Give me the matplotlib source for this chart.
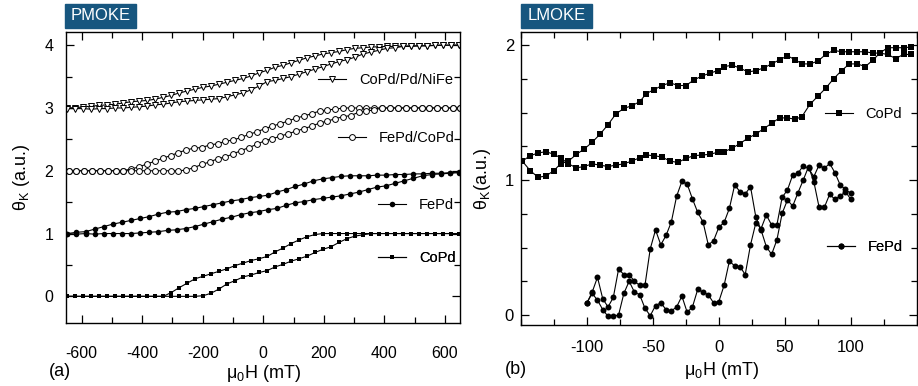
import matplotlib
matplotlib.use("Agg")
import matplotlib.pyplot as plt
from matplotlib.patches import Rectangle
from matplotlib.ticker import MultipleLocator, FixedLocator

plt.rcParams['font.family'] = ['Liberation Sans', 'DejaVu Sans']
plt.rcParams['mathtext.fontset'] = 'custom'
plt.rcParams['mathtext.rm'] = 'Liberation Sans'
plt.rcParams['axes.unicode_minus'] = False

# ---- (a) PMOKE ----
# field grid of CoPd and CoPd/Pd/NiFe loops (mT)
field_sq = [-647, -621, -594, -568, -541, -515, -489, -462, -436, -409,
            -383, -357, -330, -304, -277, -251, -225, -198, -172, -145,
            -119, -93, -66, -40, -13, 13, 40, 66, 92, 119,
            145, 172, 198, 224, 251, 277, 304, 330, 356, 383,
            409, 436, 462, 488, 515, 541, 568, 594, 620, 647]

copd_up = [0.0] * 13 + [0.06, 0.14, 0.21, 0.28, 0.32, 0.36, 0.40, 0.44, 0.49, 0.53,
                        0.57, 0.60, 0.635, 0.71, 0.77, 0.84, 0.90, 0.95, 0.985] + [1.0] * 18
copd_dn = [0.0] * 17 + [0.01, 0.05, 0.12, 0.20, 0.25, 0.31, 0.34, 0.38, 0.41, 0.47,
                        0.51, 0.56, 0.60, 0.64, 0.70, 0.75, 0.79, 0.86, 0.92, 0.96,
                        0.98] + [1.0] * 12

nife_up = [3.00, 3.005, 3.016, 3.03, 3.04, 3.05, 3.06, 3.08, 3.10, 3.11,
           3.12, 3.14, 3.17, 3.20, 3.24, 3.27, 3.30, 3.33, 3.35, 3.38,
           3.41, 3.44, 3.47, 3.51, 3.56, 3.60, 3.65, 3.68, 3.72, 3.76,
           3.80, 3.83, 3.86, 3.88, 3.90, 3.93, 3.95, 3.96, 3.97, 3.975,
           3.98, 3.98, 3.985, 3.99, 3.99, 3.99, 3.995, 4.0, 4.0, 4.0]
nife_dn = [2.99, 2.99, 2.99, 2.98, 2.99, 2.99, 3.0, 3.0, 3.01, 3.02,
           3.03, 3.05, 3.06, 3.08, 3.10, 3.11, 3.12, 3.13, 3.14, 3.15,
           3.18, 3.21, 3.24, 3.29, 3.35, 3.42, 3.44, 3.47, 3.50, 3.54,
           3.58, 3.62, 3.66, 3.70, 3.74, 3.77, 3.81, 3.86, 3.89, 3.92,
           3.95, 3.96, 3.98, 3.98, 3.99, 3.99, 4.0, 4.0, 4.0, 4.0]

# field grid of FePd/CoPd loop
field_oc = [-643, -617, -591, -565, -539, -514, -488, -462, -436, -410,
            -384, -358, -332, -306, -280, -255, -229, -203, -177, -151,
            -125, -99, -73, -47, -21, 5, 30, 56, 82, 108,
            134, 160, 186, 212, 238, 264, 289, 315, 341, 367,
            393, 419, 445, 471, 497, 523, 548, 574, 600, 626, 650]
fecopd_up = [2.0] * 8 + [2.03, 2.06, 2.11, 2.15, 2.20, 2.24, 2.29, 2.33, 2.36, 2.37,
                         2.41, 2.43, 2.47, 2.49, 2.53, 2.58, 2.62, 2.67, 2.71, 2.75,
                         2.79, 2.84, 2.87, 2.91, 2.95, 2.97, 2.98] + [3.0] * 16
fecopd_dn = [2.0] * 15 + [2.01, 2.05, 2.10, 2.14, 2.19, 2.22, 2.27, 2.32, 2.37, 2.42,
                          2.48, 2.51, 2.55, 2.59, 2.63, 2.67, 2.71, 2.76, 2.79, 2.83,
                          2.86, 2.88, 2.93, 2.95, 2.97] + [3.0] * 11

# field grid of FePd loop
field_fc = [-647, -617, -587, -557, -527, -497, -466, -436, -406, -376,
            -346, -316, -286, -256, -226, -196, -165, -135, -105, -75,
            -45, -15, 15, 45, 76, 106, 136, 166, 196, 226,
            256, 286, 316, 346, 376, 406, 436, 466, 496, 527,
            557, 587, 617, 647]
fepd_up = [1.00, 1.02, 1.03, 1.07, 1.11, 1.15, 1.18, 1.21, 1.24, 1.27,
           1.31, 1.34, 1.35, 1.38, 1.40, 1.43, 1.46, 1.49, 1.52, 1.54,
           1.57, 1.59, 1.61, 1.66, 1.70, 1.75, 1.79, 1.84, 1.87, 1.89,
           1.91, 1.92, 1.92, 1.92, 1.93, 1.93, 1.94, 1.94, 1.95, 1.95,
           1.96, 1.96, 1.97, 1.98]
fepd_dn = [1.0, 0.99, 1.0, 0.99, 1.0, 1.0, 1.0, 1.0, 1.01, 1.02,
           1.03, 1.05, 1.06, 1.08, 1.11, 1.15, 1.19, 1.23, 1.26, 1.30,
           1.33, 1.35, 1.38, 1.40, 1.45, 1.49, 1.51, 1.54, 1.56, 1.58,
           1.60, 1.63, 1.66, 1.70, 1.74, 1.76, 1.80, 1.84, 1.88, 1.92,
           1.94, 1.95, 1.96, 1.97]

# ---- (b) LMOKE ----
field_lsq = [-149, -143, -137, -131, -125, -120, -114, -108, -102, -96,
             -90, -84, -78, -72, -66, -60, -55, -49, -43, -37,
             -31, -25, -19, -13, -7, -1, 4, 10, 16, 22,
             28, 34, 40, 46, 52, 58, 63, 69, 75, 81,
             87, 93, 99, 105, 111, 117, 122, 128, 134, 140, 146]
l_copd_up = [1.14, 1.07, 1.02, 1.03, 1.07, 1.12, 1.14, 1.19, 1.23, 1.28,
             1.34, 1.41, 1.49, 1.53, 1.55, 1.58, 1.64, 1.67, 1.70, 1.72,
             1.70, 1.70, 1.74, 1.77, 1.79, 1.81, 1.84, 1.85, 1.83, 1.80,
             1.81, 1.83, 1.86, 1.89, 1.92, 1.89, 1.86, 1.86, 1.88, 1.93,
             1.96, 1.95, 1.95, 1.95, 1.95, 1.94, 1.94, 1.93, 1.90, 1.93, 1.93]
l_copd_dn = [1.14, 1.18, 1.20, 1.21, 1.19, 1.165, 1.12, 1.09, 1.10, 1.12,
             1.11, 1.10, 1.11, 1.12, 1.14, 1.165, 1.185, 1.18, 1.17, 1.14,
             1.13, 1.16, 1.18, 1.185, 1.19, 1.205, 1.21, 1.235, 1.27, 1.31,
             1.34, 1.38, 1.42, 1.46, 1.46, 1.45, 1.47, 1.56, 1.62, 1.68,
             1.75, 1.81, 1.86, 1.86, 1.84, 1.89, 1.94, 1.98, 1.98, 1.98, 1.985]

field_lfe = [-100, -96, -92, -88, -84, -80, -76, -72, -68, -64,
             -60, -56, -52, -48, -44, -40, -36, -32, -28, -24,
             -20, -16, -12, -8, -4, 0, 4, 8, 12, 16,
             20, 24, 28, 32, 36, 40, 44, 48, 52, 56,
             60, 64, 68, 72, 76, 80, 84, 88, 92, 96, 100]
l_fepd_up = [0.09, 0.17, 0.28, 0.12, 0.06, 0.13, 0.34, 0.30, 0.30, 0.25,
             0.22, 0.22, 0.49, 0.63, 0.52, 0.59, 0.69, 0.88, 0.99, 0.97,
             0.86, 0.76, 0.69, 0.52, 0.55, 0.65, 0.686, 0.79, 0.963, 0.914,
             0.896, 0.951, 0.728, 0.63, 0.506, 0.449, 0.556, 0.753, 0.852, 0.807,
             0.906, 1.0, 1.099, 0.988, 0.798, 0.798, 0.894, 0.857, 0.881, 0.914, 0.857]
l_fepd_dn = [0.09, 0.16, 0.11, 0.04, -0.01, -0.01, 0.0, 0.16, 0.25, 0.17,
             0.15, 0.05, -0.005, 0.07, 0.09, 0.04, 0.03, 0.06, 0.14, 0.02,
             0.06, 0.19, 0.17, 0.15, 0.09, 0.10, 0.22, 0.40, 0.363, 0.358,
             0.30, 0.519, 0.681, 0.64, 0.741, 0.667, 0.667, 0.872, 0.926, 1.037,
             1.05, 1.106, 1.086, 1.025, 1.111, 1.086, 1.123, 1.054, 0.963, 0.931, 0.901]

xticks_b = [-100, -50, 0, 50, 100]

fig = plt.figure(figsize=(9.18, 3.86), dpi=100)
axa = fig.add_axes([0.0724, 0.164, 0.4287, 0.7531])
axb = fig.add_axes([0.5675, 0.158, 0.4311, 0.759])

lw = 0.8
open_kw = dict(mfc='white', mec='k', mew=0.7)

# panel (a)
for y in (copd_up, copd_dn):
    h_copd, = axa.plot(field_sq, y, '-s', color='k', lw=lw, ms=3.3, mew=0)
for y in (fepd_up, fepd_dn):
    h_fepd, = axa.plot(field_fc, y, '-o', color='k', lw=lw, ms=4.0, mew=0)
for y in (fecopd_up, fecopd_dn):
    h_fecopd, = axa.plot(field_oc, y, '-o', color='k', lw=lw, ms=4.2, **open_kw)
for y in (nife_up, nife_dn):
    h_nife, = axa.plot(field_sq, y, '-v', color='k', lw=lw, ms=4.8, **open_kw)

axa.set_xlim(-650, 650)
axa.set_ylim(-0.42, 4.21)
axa.xaxis.set_major_locator(MultipleLocator(200))
axa.xaxis.set_minor_locator(MultipleLocator(100))
axa.yaxis.set_major_locator(MultipleLocator(1))
axa.yaxis.set_minor_locator(MultipleLocator(0.5))
axa.tick_params(axis='x', which='major', pad=17)
axa.tick_params(axis='y', which='major', pad=9.5)

# panel (b)
for y in (l_copd_up, l_copd_dn):
    h_lcopd, = axb.plot(field_lsq, y, '-s', color='k', lw=lw, ms=4.3, mew=0)
for y in (l_fepd_up, l_fepd_dn):
    h_lfepd, = axb.plot(field_lfe, y, '-o', color='k', lw=lw, ms=4.3, mew=0)

axb.set_xlim(-150, 150)
axb.set_ylim(-0.074, 2.096)
axb.xaxis.set_major_locator(FixedLocator(xticks_b))
axb.xaxis.set_minor_locator(MultipleLocator(25))
axb.yaxis.set_major_locator(MultipleLocator(1))
axb.yaxis.set_minor_locator(MultipleLocator(0.25))
axb.tick_params(axis='x', which='major', pad=11)
axb.tick_params(axis='y', which='major', pad=5)

for ax, fs in ((axa, 11.5), (axb, 12)):
    for s in ax.spines.values():
        s.set_linewidth(1.0)
    ax.tick_params(which='both', direction='in', top=True, right=True,
                   width=0.9, labelsize=fs)
    ax.tick_params(which='major', length=6)
    ax.tick_params(which='minor', length=4)

axa.set_ylabel(r'$\mathregular{\theta_K}$ (a.u.)', fontsize=13)
axa.yaxis.set_label_coords(-0.088, 0.5)
axa.set_xlabel(r'$\mathregular{\mu_0}$H (mT)', fontsize=13)
axa.xaxis.set_label_coords(0.5, -0.139)
axb.set_ylabel(r'$\mathregular{\theta_K}$(a.u.)', fontsize=13)
axb.yaxis.set_label_coords(-0.071, 0.5)
axb.set_xlabel(r'$\mathregular{\mu_0}$H (mT)', fontsize=13)
axb.xaxis.set_label_coords(0.507, -0.119)


def tag(ax, handle, label, x, y):
    leg = ax.legend([handle], [label], loc='center left', bbox_to_anchor=(x, y),
                    frameon=False, fontsize=10.5, handlelength=1.9,
                    handletextpad=0.9, borderpad=0, borderaxespad=0)
    ax.add_artist(leg)


tag(axa, h_nife, 'CoPd/Pd/NiFe', 0.639, 0.835)
tag(axa, h_fecopd, 'FePd/CoPd', 0.690, 0.635)
tag(axa, h_fepd, 'FePd', 0.792, 0.405)
tag(axa, h_copd, 'CoPd', 0.792, 0.223)
tag(axb, h_lcopd, 'CoPd', 0.768, 0.72)
tag(axb, h_lfepd, 'FePd', 0.773, 0.267)

# title badges
W, H = 918, 386
for x0, name in ((65, 'PMOKE'), (521, 'LMOKE')):
    fig.patches.append(Rectangle((x0 / W, 1 - 28 / H), 71 / W, 24 / H,
                                 transform=fig.transFigure, color='#17567f'))
    fig.text((x0 + 35.5) / W, 1 - 16 / H, name, color='white', fontsize=12,
             ha='center', va='center')

fig.text(60 / W, 1 - 372 / H, '(a)', fontsize=13, ha='center', va='center')
fig.text(516 / W, 1 - 370 / H, '(b)', fontsize=13, ha='center', va='center')

fig.savefig('out.png', dpi=100)
